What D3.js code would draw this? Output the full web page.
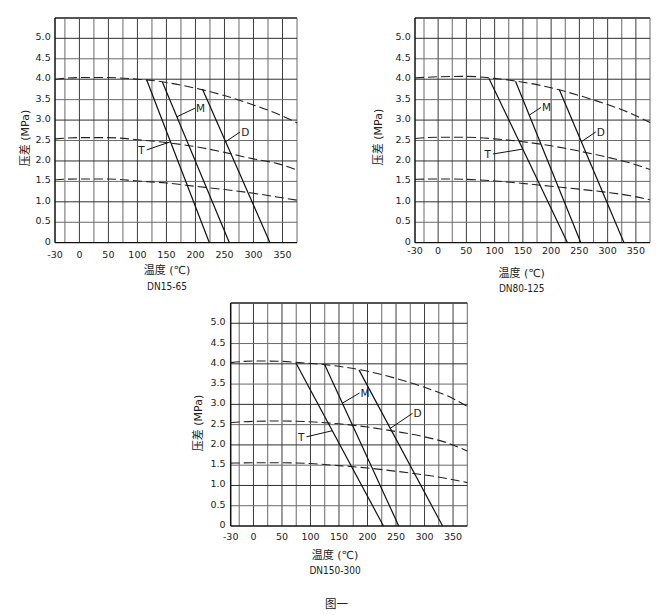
<!DOCTYPE html>
<html>
<head>
<meta charset="utf-8">
<script src="https://cdn.jsdelivr.net/npm/d3@7/dist/d3.min.js"></script>
<style>
  html, body { margin: 0; padding: 0; background: #fff; }
  svg { display: block; }
  text { font-family: 'DejaVu Sans', 'Noto Sans CJK SC', sans-serif; fill: #222; }
  text.cond { font-family: 'DejaVu Sans Condensed', 'DejaVu Sans', sans-serif; }
</style>
</head>
<body>
<svg id="chart" width="666" height="615"></svg>
<script>
// ---------- shared axis values ----------
const xTickValues = [-30, 0, 50, 100, 150, 200, 250, 300, 350];
const xTickLabels = ["-30", "0", "50", "100", "150", "200", "250", "300", "350"];
const yTickValues = [0, 0.5, 1.0, 1.5, 2.0, 2.5, 3.0, 3.5, 4.0, 4.5, 5.0];
const yTickLabels = ["0", "0.5", "1.0", "1.5", "2.0", "2.5", "3.0", "3.5", "4.0", "4.5", "5.0"];
const xGridValues = [-25, 0, 25, 50, 75, 100, 125, 150, 175, 200, 225, 250, 275, 300, 325, 350, 375];
const yGridValues = [0.5, 1.0, 1.5, 2.0, 2.5, 3.0, 3.5, 4.0, 4.5, 5.0];
const xTitle = "温度 (℃)";
const yTitle = "压差 (MPa)";
const caption = "图一";

// ---------- DN15-65 ----------
const dn15Top = [[-30,4.0],[0,4.04],[50,4.04],[100,4.0],[125,3.97],[150,3.92],[200,3.78],[250,3.6],[300,3.37],[340,3.16],[375,2.93]];
const dn15Mid = [[-30,2.54],[0,2.57],[50,2.57],[100,2.52],[150,2.45],[200,2.35],[250,2.21],[300,2.05],[340,1.94],[375,1.78]];
const dn15Bot = [[-30,1.54],[0,1.56],[50,1.56],[100,1.51],[150,1.46],[200,1.38],[250,1.3],[300,1.21],[340,1.12],[375,1.04]];
const dn15T = [[116,3.98],[224,0]];
const dn15M = [[143,3.93],[258.5,0]];
const dn15D = [[212,3.76],[328.5,0]];
const dn15Leaders = [
  {label:"M", from:[168,3.08], to:[199,3.29], side:"right"},
  {label:"D", from:[252,2.47], to:[277,2.71], side:"right"},
  {label:"T", from:[157,2.47], to:[116,2.27], side:"left"}
];

// ---------- DN80-125 ----------
const dn80Top = [[-30,4.03],[0,4.06],[50,4.07],[100,4.02],[140,3.95],[200,3.79],[250,3.6],[300,3.38],[340,3.17],[375,2.94]];
const dn80Mid = [[-30,2.55],[0,2.58],[50,2.58],[100,2.54],[150,2.47],[200,2.37],[250,2.24],[300,2.09],[340,1.95],[375,1.79]];
const dn80Bot = [[-30,1.55],[0,1.56],[50,1.55],[100,1.51],[150,1.45],[200,1.38],[250,1.31],[300,1.23],[340,1.15],[375,1.05]];
const dn80T = [[90,4.02],[229,0]];
const dn80M = [[137,3.95],[252.6,0]];
const dn80D = [[214.4,3.75],[329,0]];
const dn80Leaders = [
  {label:"M", from:[161.3,3.12], to:[182,3.31], side:"right"},
  {label:"D", from:[253.5,2.47], to:[279,2.71], side:"right"},
  {label:"T", from:[149.8,2.29], to:[97,2.17], side:"left"}
];

// ---------- DN150-300 ----------
const dn150Top = [[-30,4.03],[0,4.07],[50,4.06],[80,4.03],[125,3.98],[185,3.86],[250,3.64],[300,3.42],[340,3.21],[375,2.95]];
const dn150Mid = [[-30,2.55],[0,2.58],[50,2.59],[100,2.57],[150,2.52],[200,2.44],[250,2.33],[300,2.2],[340,2.05],[375,1.85]];
const dn150Bot = [[-30,1.55],[0,1.56],[50,1.56],[100,1.54],[150,1.49],[200,1.43],[250,1.35],[300,1.26],[340,1.17],[375,1.07]];
const dn150T = [[74.5,4.02],[228,0]];
const dn150M = [[125,3.98],[254.8,0]];
const dn150D = [[185,3.85],[331.7,0]];
const dn150Leaders = [
  {label:"M", from:[156,3.03], to:[186,3.28], side:"right"},
  {label:"D", from:[240,2.41], to:[279,2.78], side:"right"},
  {label:"T", from:[138.3,2.35], to:[93,2.2], side:"left"}
];

// ---------- panel layout ----------
const panels = [
  {title:"DN15-65", curves:[dn15Top,dn15Mid,dn15Bot], lines:[dn15T,dn15M,dn15D], leaders:dn15Leaders,
   left:55, left25:64.9, right:297, y0:242.7, y55:17.9, xLabY:257.5, yLabX:50.7, titleX:167, xTitleY:274, nameY:290, yTitleX:25, yTitleY:138},
  {title:"DN80-125", curves:[dn80Top,dn80Mid,dn80Bot], lines:[dn80T,dn80M,dn80D], leaders:dn80Leaders,
   left:415, left25:424, right:650, y0:242.7, y55:17.9, xLabY:254, yLabX:410.7, titleX:521.7, xTitleY:276.5, nameY:291.5, yTitleX:378.5, yTitleY:137},
  {title:"DN150-300", curves:[dn150Top,dn150Mid,dn150Bot], lines:[dn150T,dn150M,dn150D], leaders:dn150Leaders,
   left:230.7, left25:239.2, right:467.3, y0:526, y55:303, xLabY:540, yLabX:225.5, titleX:335, xTitleY:559, nameY:573.5, yTitleX:198.5, yTitleY:423}
];

const svg = d3.select("#chart");

panels.forEach(p => {
  const x = d3.scaleLinear().domain([-30, -25, 375]).range([p.left, p.left25, p.right]);
  const y = d3.scaleLinear().domain([0, 5.5]).range([p.y0, p.y55]);
  const g = svg.append("g");

  // grid
  g.selectAll(".vg").data(xGridValues).enter().append("line")
    .attr("x1", d => x(d)).attr("x2", d => x(d))
    .attr("y1", y(0)).attr("y2", y(5.5))
    .attr("stroke", d => (d % 50 === 0 ? "#3c3c3c" : "#6a6a6a")).attr("stroke-width", 1);
  g.selectAll(".hg").data(yGridValues).enter().append("line")
    .attr("x1", x(-30)).attr("x2", x(375))
    .attr("y1", d => y(d)).attr("y2", d => y(d))
    .attr("stroke", d => (d % 1 === 0 ? "#2e2e2e" : "#6a6a6a")).attr("stroke-width", 1);
  // frame
  g.append("line").attr("x1", x(-30)).attr("x2", x(375)).attr("y1", y(5.5)).attr("y2", y(5.5))
    .attr("stroke", "#555").attr("stroke-width", 2);
  g.append("line").attr("x1", x(-30)).attr("x2", x(375)).attr("y1", y(0)).attr("y2", y(0))
    .attr("stroke", "#111").attr("stroke-width", 1.3);
  g.append("line").attr("x1", x(-30)).attr("x2", x(-30)).attr("y1", y(0)).attr("y2", y(5.5))
    .attr("stroke", "#111").attr("stroke-width", 1.5);

  // tick labels
  g.selectAll(".xl").data(xTickValues).enter().append("text")
    .attr("x", d => x(d)).attr("y", p.xLabY).attr("text-anchor", "middle")
    .attr("font-size", 9.5).text((d, i) => xTickLabels[i]);
  g.selectAll(".yl").data(yTickValues).enter().append("text")
    .attr("x", p.yLabX).attr("y", d => y(d) + 2).attr("text-anchor", "end")
    .attr("font-size", 9.5).text((d, i) => yTickLabels[i]);

  // titles
  g.append("text").attr("x", p.titleX).attr("y", p.xTitleY).attr("text-anchor", "middle")
    .attr("font-size", 11).text(xTitle);
  g.append("text").attr("class", "cond").attr("x", p.titleX).attr("y", p.nameY).attr("text-anchor", "middle")
    .attr("font-size", 10).text(p.title);
  g.append("text").attr("transform", `translate(${p.yTitleX},${p.yTitleY}) rotate(-90)`)
    .attr("text-anchor", "middle").attr("dy", "0.35em")
    .attr("font-size", 11).text(yTitle);

  // dashed curves
  const curve = d3.line().x(d => x(d[0])).y(d => y(d[1])).curve(d3.curveMonotoneX);
  p.curves.forEach(c => {
    g.append("path").attr("d", curve(c)).attr("fill", "none")
      .attr("stroke", "#222").attr("stroke-width", 1.1).attr("stroke-dasharray", "9,4");
  });
  // solid lines
  const straight = d3.line().x(d => x(d[0])).y(d => y(d[1]));
  p.lines.forEach(l => {
    g.append("path").attr("d", straight(l)).attr("fill", "none")
      .attr("stroke", "#111").attr("stroke-width", 1.2);
  });
  // leaders and labels
  p.leaders.forEach(a => {
    g.append("line").attr("x1", x(a.from[0])).attr("y1", y(a.from[1]))
      .attr("x2", x(a.to[0])).attr("y2", y(a.to[1]))
      .attr("stroke", "#111").attr("stroke-width", 1);
    g.append("text")
      .attr("x", x(a.to[0]) + (a.side === "right" ? 1 : -2))
      .attr("y", y(a.to[1]) + 4)
      .attr("text-anchor", a.side === "right" ? "start" : "end")
      .attr("font-size", 10.5).text(a.label);
  });
});

svg.append("text").attr("x", 336.5).attr("y", 607.5).attr("text-anchor", "middle")
  .attr("font-size", 11.5).text(caption);
</script>
</body>
</html>
